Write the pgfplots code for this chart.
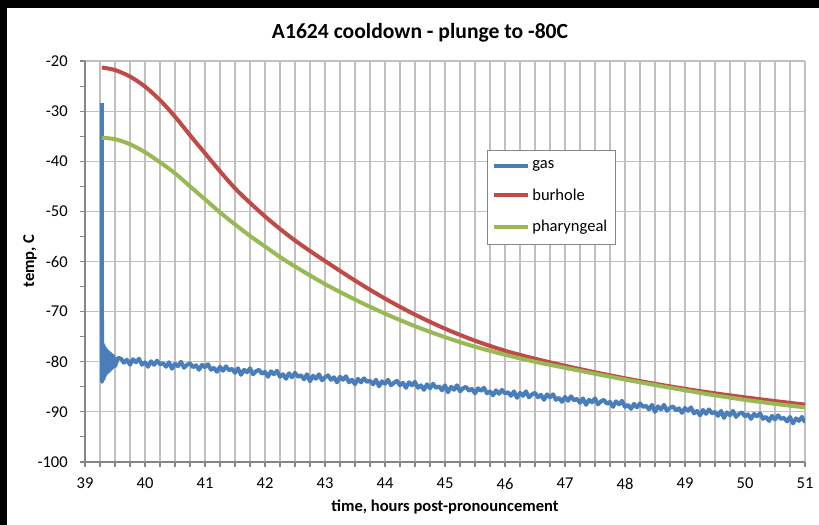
\documentclass[border=0pt]{standalone}
\usepackage{fontspec}
\setmainfont{Carlito}
\usepackage{pgfplots}
\pgfplotsset{compat=1.18}
\definecolor{gasblue}{HTML}{4A7EBB}
\definecolor{burred}{HTML}{BE4B48}
\definecolor{phagreen}{HTML}{98B954}
\definecolor{gridgray}{HTML}{C0C0C0}
\definecolor{axgray}{HTML}{868686}
\begin{document}
\begin{tikzpicture}[x=1pt,y=1pt]
\useasboundingbox (0,0) rectangle (614.25,393.75);
\fill[black] (0,0) rectangle (614.25,393.75);
\fill[white] (5.25,0) rectangle (614.25,387.75);
\begin{axis}[
  at={(63.75pt,47.25pt)}, anchor=south west,
  scale only axis, width=540pt, height=300.75pt,
  xmin=39, xmax=51, ymin=-100, ymax=-20,
  xtick={39,40,...,51}, minor x tick num=3,
  ytick={-100,-90,...,-20}, minor y tick num=1,
  yticklabels={-100,-90,-80,-70,-60,-50,-40,-30,-20},
  xticklabels={39,40,41,42,43,44,45,46,47,48,49,50,51},
  xmajorgrids, xminorgrids, ymajorgrids,
  grid style={draw=gridgray, line width=0.9pt},
  minor grid style={draw=gridgray, line width=0.9pt},
  axis lines*=left,
  axis line style={draw=axgray, line width=0.9pt},
  tick align=outside,
  major tick length=3.75pt, minor tick length=3.75pt,
  tick style={draw=axgray, line width=0.8pt},
  xtick pos=bottom, ytick pos=left,
  ticklabel style={font=\fontsize{12.4}{14}\selectfont},
  yticklabel style={anchor=east, inner sep=0pt, xshift=-9pt},
  xticklabel style={anchor=north, inner sep=0pt, yshift=-8pt},
  legend style={at={(0.558,0.778)}, anchor=north west, draw=axgray, fill=white,
    font=\fontsize{12.4}{14}\selectfont, inner xsep=4pt, inner ysep=6pt,
    row sep=9.3pt, cells={anchor=west}},
  legend image code/.code={\draw[#1, line width=3pt] (0pt,0pt)--(25pt,0pt);},
]
\addplot[gasblue, line width=3pt, line join=round] coordinates {
(39.281,-28.4) (39.284,-84.0) (39.30,-76.5) (39.31,-83.5) (39.32,-77.0) (39.335,-82.8)
(39.35,-77.5) (39.37,-82.2) (39.39,-78.0) (39.41,-81.8) (39.43,-78.4) (39.45,-81.3)
(39.47,-78.8) (39.5,-80.9) (39.55,-79.2)
(39.60,-79.4) (39.65,-80.2) (39.70,-79.6) (39.75,-80.6) (39.80,-79.5) (39.85,-80.1)
(39.90,-79.4) (39.95,-80.6) (40.00,-80.1) (40.05,-81.0) (40.10,-79.9) (40.15,-80.6)
(40.20,-79.8) (40.25,-80.5) (40.30,-80.3) (40.35,-81.0) (40.40,-80.1) (40.45,-81.4)
(40.50,-80.4) (40.55,-80.9) (40.60,-80.0) (40.65,-81.2) (40.70,-80.6) (40.75,-80.3)
(40.80,-81.1) (40.85,-80.7) (40.90,-81.6) (40.95,-80.6) (41.00,-81.1) (41.05,-80.5)
(41.10,-81.6) (41.15,-81.2) (41.20,-82.0) (41.25,-81.0) (41.30,-81.8) (41.35,-80.9)
(41.40,-81.7) (41.45,-81.4) (41.50,-82.2) (41.55,-81.3) (41.60,-82.6) (41.65,-81.6)
(41.70,-82.1) (41.75,-81.3) (41.80,-82.5) (41.85,-81.9) (41.90,-81.6) (41.95,-82.4)
(42.00,-82.0) (42.05,-83.0) (42.10,-81.9) (42.15,-82.5) (42.20,-81.8) (42.25,-83.0)
(42.30,-82.5) (42.35,-83.4) (42.40,-82.3) (42.45,-83.1) (42.50,-82.2) (42.55,-83.0)
(42.60,-82.7) (42.65,-83.5) (42.70,-82.5) (42.75,-83.9) (42.80,-82.8) (42.85,-83.4)
(42.90,-82.5) (42.95,-83.7) (43.00,-83.1) (43.05,-82.7) (43.10,-83.6) (43.15,-83.1)
(43.20,-84.1) (43.25,-83.0) (43.30,-83.6) (43.35,-82.9) (43.40,-84.1) (43.45,-83.6)
(43.50,-84.5) (43.55,-83.4) (43.60,-84.1) (43.65,-83.3) (43.70,-84.0) (43.75,-83.8)
(43.80,-84.5) (43.85,-83.6) (43.90,-84.9) (43.95,-83.9) (44.00,-84.4) (44.05,-83.6)
(44.10,-84.7) (44.15,-84.2) (44.20,-83.8) (44.25,-84.7) (44.30,-84.2) (44.35,-85.2)
(44.40,-84.1) (44.45,-84.7) (44.50,-84.0) (44.55,-85.2) (44.60,-84.7) (44.65,-85.6)
(44.70,-84.5) (44.75,-85.3) (44.80,-84.4) (44.85,-85.2) (44.90,-84.9) (44.95,-85.7)
(45.00,-84.7) (45.05,-86.1) (45.10,-85.0) (45.15,-85.6) (45.20,-84.7) (45.25,-85.9)
(45.30,-85.3) (45.35,-85.0) (45.40,-85.8) (45.45,-85.4) (45.50,-86.3) (45.55,-85.3)
(45.60,-85.8) (45.65,-85.2) (45.70,-86.3) (45.75,-85.9) (45.80,-86.7) (45.85,-85.7)
(45.90,-86.4) (45.95,-85.6) (46.00,-86.3) (46.05,-86.1) (46.10,-86.8) (46.15,-85.9)
(46.20,-87.2) (46.25,-86.2) (46.30,-86.8) (46.35,-85.9) (46.40,-87.1) (46.45,-86.5)
(46.50,-86.2) (46.55,-87.1) (46.60,-86.6) (46.65,-87.6) (46.70,-86.5) (46.75,-87.1)
(46.80,-86.5) (46.85,-87.6) (46.90,-87.2) (46.95,-88.0) (47.00,-87.0) (47.05,-87.8)
(47.10,-86.9) (47.15,-87.7) (47.20,-87.4) (47.25,-88.2) (47.30,-87.3) (47.35,-88.6)
(47.40,-87.6) (47.45,-88.1) (47.50,-87.3) (47.55,-88.5) (47.60,-87.9) (47.65,-87.6)
(47.70,-88.4) (47.75,-88.0) (47.80,-89.0) (47.85,-87.9) (47.90,-88.5) (47.95,-87.8)
(48.00,-89.0) (48.05,-88.6) (48.10,-89.4) (48.15,-88.4) (48.20,-89.1) (48.25,-88.3)
(48.30,-89.0) (48.35,-88.8) (48.40,-89.5) (48.45,-88.6) (48.50,-90.0) (48.55,-88.9)
(48.60,-89.5) (48.65,-88.6) (48.70,-89.8) (48.75,-89.2) (48.80,-88.9) (48.85,-89.7)
(48.90,-89.3) (48.95,-90.2) (49.00,-89.2) (49.05,-89.8) (49.10,-89.1) (49.15,-90.3)
(49.20,-89.8) (49.25,-90.7) (49.30,-89.6) (49.35,-90.4) (49.40,-89.5) (49.45,-90.3)
(49.50,-90.0) (49.55,-90.8) (49.60,-89.8) (49.65,-91.2) (49.70,-90.1) (49.75,-90.7)
(49.80,-89.8) (49.85,-91.0) (49.90,-90.4) (49.95,-90.1) (50.00,-90.9) (50.05,-90.5)
(50.10,-91.4) (50.15,-90.4) (50.20,-90.9) (50.25,-90.3) (50.30,-91.4) (50.35,-91.0)
(50.40,-91.8) (50.45,-90.8) (50.50,-91.5) (50.55,-90.7) (50.60,-91.4) (50.65,-91.2)
(50.70,-91.9) (50.75,-91.0) (50.80,-92.3) (50.85,-91.3) (50.90,-91.8) (50.95,-91.0)
(51.00,-92.1)
};
\addlegendentry{gas}
\addplot[burred, line width=3pt, smooth] coordinates {
(39.28,-21.3) (39.5,-21.8) (39.75,-23.1) (40,-25.1) (40.25,-27.8) (40.5,-31.1)
(40.75,-34.8) (41,-38.4) (41.25,-42.0) (41.5,-45.4) (41.75,-48.3) (42,-51.0)
(42.25,-53.5) (42.5,-55.8) (42.75,-57.9) (43,-59.9) (43.5,-63.8) (44,-67.4)
(44.5,-70.6) (45,-73.4) (45.5,-75.8) (46,-77.8) (46.5,-79.4) (47,-80.8)
(47.5,-82.1) (48,-83.3) (48.5,-84.4) (49,-85.4) (49.5,-86.3) (50,-87.1)
(50.5,-87.85) (51,-88.55)
};
\addlegendentry{burhole}
\addplot[phagreen, line width=3pt, smooth] coordinates {
(39.28,-35.3) (39.5,-35.6) (39.75,-36.6) (40,-38.2) (40.25,-40.2) (40.5,-42.4)
(40.75,-45.0) (41,-47.6) (41.25,-50.2) (41.5,-52.6) (41.75,-54.9) (42,-57.0)
(42.25,-59.1) (42.5,-61.0) (43,-64.5) (43.5,-67.6) (44,-70.4) (44.5,-72.9)
(45,-75.1) (45.5,-77.0) (46,-78.6) (46.5,-80.0) (47,-81.2) (47.5,-82.4)
(48,-83.55) (48.5,-84.65) (49,-85.7) (49.5,-86.7) (50,-87.6) (50.5,-88.4)
(51,-89.1)
};
\addlegendentry{pharyngeal}
\end{axis}
\node[font=\bfseries\fontsize{16.2}{18}\selectfont] at (315,369) {A1624 cooldown - plunge to -80C};
\node[font=\bfseries\fontsize{12.4}{14}\selectfont, rotate=90] at (22.5,198) {temp, C};
\node[font=\bfseries\fontsize{12.4}{14}\selectfont] at (333.75,13.5) {time, hours post-pronouncement};
\end{tikzpicture}
\end{document}
